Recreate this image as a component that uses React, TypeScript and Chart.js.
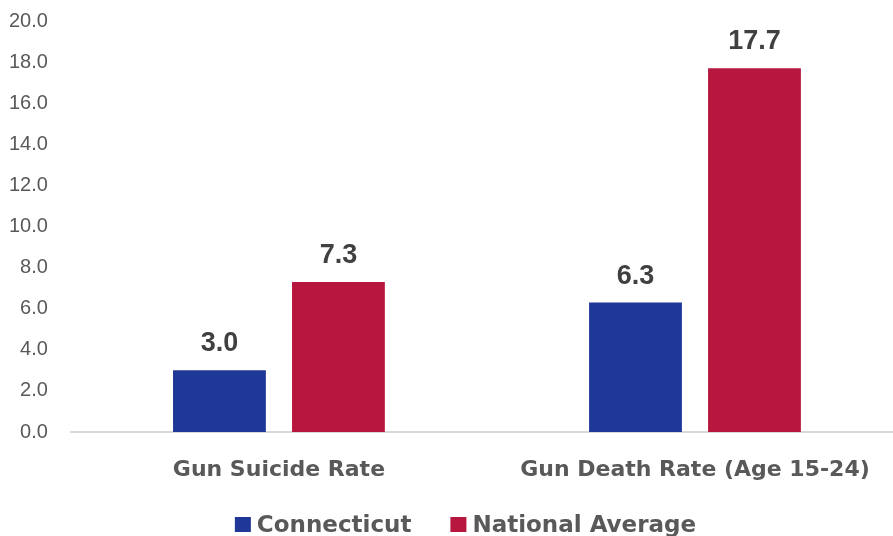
import React, { useEffect, useRef } from "react";
import { Chart, registerables } from "chart.js";

Chart.register(...registerables);

const categories = ["Gun Suicide Rate", "Gun Death Rate (Age 15-24)"];
const connecticut = [3.0, 6.3];
const nationalAverage = [7.3, 17.7];
const seriesNames = ["Connecticut", "National Average"];
const seriesColors = ["#1F3796", "#B7163F"];

const valueLabels = {
  id: "valueLabels",
  afterDatasetsDraw(chart: any) {
    const ctx = chart.ctx;
    ctx.save();
    ctx.font = "bold 27px 'Liberation Sans', Arial, sans-serif";
    ctx.fillStyle = "#404040";
    ctx.textAlign = "center";
    ctx.textBaseline = "alphabetic";
    chart.data.datasets.forEach((ds: any, i: number) => {
      const meta = chart.getDatasetMeta(i);
      meta.data.forEach((bar: any, j: number) => {
        ctx.fillText(Number(ds.data[j]).toFixed(1), bar.x, bar.y - 19);
      });
    });
    ctx.restore();
  },
};

const bottomLegend = {
  id: "bottomLegend",
  afterDraw(chart: any) {
    const ctx = chart.ctx;
    ctx.save();
    ctx.font = "bold 23px 'DejaVu Sans', sans-serif";
    ctx.textBaseline = "alphabetic";
    ctx.textAlign = "left";
    const box = 16;
    const boxGap = 6;
    const itemGap = 39;
    const items = chart.data.datasets.map((ds: any) => ({
      label: ds.label,
      color: ds.backgroundColor,
      w: ctx.measureText(ds.label).width,
    }));
    const total =
      items.reduce((s: number, it: any) => s + box + boxGap + it.w, 0) +
      itemGap * (items.length - 1);
    let x = chart.width / 2 + 21 - total / 2;
    const baseline = chart.chartArea.bottom + 100;
    items.forEach((it: any) => {
      ctx.fillStyle = it.color;
      ctx.fillRect(x, baseline - 15, box, 15);
      x += box + boxGap;
      ctx.fillStyle = "#595959";
      ctx.fillText(it.label, x, baseline);
      x += it.w + itemGap;
    });
    ctx.restore();
  },
};

export default function App() {
  const ref = useRef<HTMLCanvasElement>(null);
  useEffect(() => {
    if (!ref.current) return;
    const chart = new Chart(ref.current, {
      type: "bar",
      data: {
        labels: categories,
        datasets: [
          {
            label: seriesNames[0],
            data: connecticut,
            backgroundColor: seriesColors[0],
            categoryPercentage: 0.572,
            barPercentage: 0.78,
          },
          {
            label: seriesNames[1],
            data: nationalAverage,
            backgroundColor: seriesColors[1],
            categoryPercentage: 0.572,
            barPercentage: 0.78,
          },
        ],
      },
      options: {
        animation: false,
        responsive: true,
        maintainAspectRatio: false,
        layout: { padding: { left: 0, right: 0, top: 9, bottom: 40 } },
        plugins: {
          tooltip: { enabled: false },
          legend: { display: false },
        },
        scales: {
          x: {
            grid: { display: false, drawTicks: false },
            border: { display: true, color: "#D9D9D9", width: 2 },
            ticks: {
              color: "#595959",
              padding: 25,
              font: { family: "'DejaVu Sans', sans-serif", weight: "bold", size: 22 },
            },
            afterFit: (scale: any) => {
              scale.height = 70;
            },
          },
          y: {
            min: 0,
            max: 20,
            grid: { display: false, drawTicks: false },
            border: { display: false },
            ticks: {
              stepSize: 2,
              padding: 23,
              color: "#595959",
              font: { family: "'Liberation Sans', Arial, sans-serif", size: 20 },
              callback: (v: any) => Number(v).toFixed(1),
            },
          },
        },
      },
      plugins: [valueLabels, bottomLegend],
    });
    return () => chart.destroy();
  }, []);
  return (
    <div style={{ position: "absolute", left: 0, top: 0, width: 893, height: 536, overflow: "hidden", background: "#fff" }}>
      <div style={{ position: "absolute", left: -14, top: -14, width: 917, height: 556 }}>
        <canvas ref={ref} />
      </div>
    </div>
  );
}
